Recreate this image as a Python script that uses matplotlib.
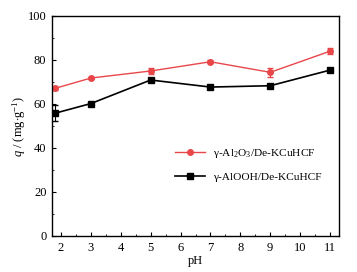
import numpy as np
import matplotlib
matplotlib.use("Agg")
import matplotlib.pyplot as plt
from matplotlib.ticker import MultipleLocator
from matplotlib.lines import Line2D

# données
ph = [1.8, 3, 5, 7, 9, 11]
q_al2o3 = [67.1, 71.8, 75.0, 79.2, 74.4, 84.0]
err_al2o3 = [0.6, 0.6, 1.2, 0.6, 2.0, 1.5]
q_alooh = [55.8, 60.2, 70.9, 67.7, 68.3, 75.4]
err_alooh = [3.6, 0.6, 0.6, 0.6, 0.6, 1.0]
labels = ["γ-Al$_2$O$_3$/De-KCuHCF", "γ-AlOOH/De-KCuHCF"]

plt.rcParams["font.family"] = ["Liberation Serif", "DejaVu Serif"]
plt.rcParams["mathtext.fontset"] = "custom"
plt.rcParams["mathtext.rm"] = "Liberation Serif"
plt.rcParams["mathtext.it"] = "Liberation Serif:italic"
plt.rcParams["font.size"] = 9

red = "#e8474a"

fig = plt.figure(figsize=(3.57, 2.72), dpi=100)
ax = fig.add_axes([52 / 357, 36 / 272, 287 / 357, 220 / 272])

ax.errorbar(ph, q_al2o3, yerr=err_al2o3, color=red, marker="o", ms=4,
            lw=1, capsize=2, elinewidth=0.8)
ax.errorbar(ph, q_alooh, yerr=err_alooh, color="black", marker="s", ms=4,
            lw=1.2, capsize=2, elinewidth=0.8)

ax.set_xlim(1.7, 11.3)
ax.set_ylim(0, 100)
ax.set_xticks(range(2, 12))
ax.xaxis.set_minor_locator(MultipleLocator(0.5))
ax.set_yticks(range(0, 101, 20))
ax.yaxis.set_minor_locator(MultipleLocator(10))
ax.tick_params(direction="in", length=3, width=0.8, pad=4)
ax.tick_params(which="minor", direction="in", length=1.5, width=0.6)
for s in ax.spines.values():
    s.set_linewidth(1)

ax.set_xlabel("pH", labelpad=1)
ax.set_ylabel(r"$q$ / (mg$\cdot$g$^{-1}$)", labelpad=0)

handles = [Line2D([], [], color=red, marker="o", ms=4, lw=1),
           Line2D([], [], color="black", marker="s", ms=4, lw=1.2)]
ax.legend(handles, labels, loc="center right", bbox_to_anchor=(0.975, 0.325),
          frameon=False, handlelength=2.6, labelspacing=1.0, handletextpad=0.7,
          fontsize=8.2)

plt.savefig("out.png", dpi=100)
